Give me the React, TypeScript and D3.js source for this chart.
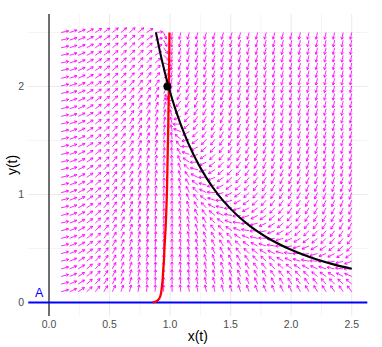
import React from "react";
import * as d3 from "d3";

// Tick labels
const xTicks = [0, 0.5, 1, 1.5, 2, 2.5];
const xTickLabels = ["0.0", "0.5", "1.0", "1.5", "2.0", "2.5"];
const yTicks = [0, 1, 2];
const yTickLabels = ["0", "1", "2"];
const xMinor = [0.25, 0.75, 1.25, 1.75, 2.25];
const yMinor = [0.5, 1.5, 2.5];

// Direction-field grid (35 x 35 from 0.1 to 2.5)
const gridN = 35;
const gridMin = 0.1;
const gridMax = 2.5;
const gridVals = d3.range(gridN).map((i) => gridMin + (i * (gridMax - gridMin)) / (gridN - 1));

// Model parameters (read to match the arrow directions)
const yNullK = 1.95; // y-nullcline y = K / x^2
const xNullBase = 0.142;
const xNullRate = 2.1;
const dxA = 1.1;
const dxP = 0.865;
const dxB = 0.44;

// Black curve points
const blackX = [0.883, 0.93, 0.987, 1.05, 1.1, 1.2, 1.3, 1.4, 1.5, 1.65, 1.8, 2.0, 2.2, 2.35, 2.5];
const blackY = [2.5, 2.255, 2.0, 1.769, 1.612, 1.354, 1.154, 0.995, 0.867, 0.716, 0.602, 0.488, 0.403, 0.353, 0.312];

// Red curve points
const redX = [0.858, 0.875, 0.902, 0.921, 0.932, 0.938, 0.943, 0.949, 0.954, 0.962, 0.972, 0.979, 0.985, 0.99, 0.993, 0.995];
const redY = [0.0, 0.005, 0.025, 0.065, 0.142, 0.204, 0.296, 0.389, 0.512, 0.667, 0.95, 1.3, 1.65, 2.0, 2.25, 2.5];

// Point and label
const pointX = [0.978];
const pointY = [2.0];
const labelText = "A";

const W = 382;
const H = 347;

export default function App() {
  const x = d3.scaleLinear().domain([0, 2.5]).range([49, 351.7]);
  const y = d3.scaleLinear().domain([0, 2]).range([302.5, 86.5]);
  const panelL = 28.3, panelR = 367.3, panelT = 14, panelB = 316;

  const rNull = (yy: number) => 1 - xNullBase * Math.exp(-xNullRate * Math.sqrt(Math.max(yy, 0)));
  const field = (xx: number, yy: number) => {
    const dx = (rNull(yy) - xx) * (dxA / Math.pow(xx, dxP) + dxB * yy);
    const dy = yNullK - xx * xx * yy;
    return [dx, dy];
  };

  const L = 0.064;
  const arrows: JSX.Element[] = [];
  gridVals.forEach((gx, i) => {
    gridVals.forEach((gy, j) => {
      const [dx, dy] = field(gx, gy);
      const m = Math.hypot(dx, dy) || 1;
      const ex = gx + (dx / m) * L;
      const ey = gy + (dy / m) * L;
      const x0 = x(gx), y0 = y(gy), x1 = x(ex), y1 = y(ey);
      const ang = Math.atan2(y1 - y0, x1 - x0);
      const hl = 2.8;
      const a1 = ang + Math.PI - Math.PI / 6;
      const a2 = ang + Math.PI + Math.PI / 6;
      const d = `M${x0},${y0}L${x1},${y1}M${x1 + hl * Math.cos(a1)},${y1 + hl * Math.sin(a1)}L${x1},${y1}L${x1 + hl * Math.cos(a2)},${y1 + hl * Math.sin(a2)}`;
      arrows.push(<path key={`${i}-${j}`} d={d} />);
    });
  });

  const blackLine = d3
    .line<number>()
    .x((_, i) => x(blackX[i]))
    .y((v) => y(v))
    .curve(d3.curveMonotoneX)(blackY);
  const redLine = d3
    .line<number>()
    .x((v) => x(v))
    .y((_, i) => y(redY[i]))
    .curve(d3.curveMonotoneY)(redX);

  const font = "'Liberation Sans', Arial, Helvetica, sans-serif";

  return (
    <svg width={W} height={H} style={{ position: "absolute", left: 0, top: 0 }} fontFamily={font}>
      <rect width={W} height={H} fill="white" />
      {/* minor grid */}
      <g stroke="#EBEBEB" strokeWidth={0.55}>
        {xMinor.map((t) => (
          <line key={"xm" + t} x1={x(t)} x2={x(t)} y1={panelT} y2={panelB} />
        ))}
        {yMinor.map((t) => (
          <line key={"ym" + t} x1={panelL} x2={panelR} y1={y(t)} y2={y(t)} />
        ))}
      </g>
      {/* major grid */}
      <g stroke="#EBEBEB" strokeWidth={1.07}>
        {xTicks.map((t) => (
          <line key={"xM" + t} x1={x(t)} x2={x(t)} y1={panelT} y2={panelB} />
        ))}
        {yTicks.map((t) => (
          <line key={"yM" + t} x1={panelL} x2={panelR} y1={y(t)} y2={y(t)} />
        ))}
      </g>
      {/* vertical reference line at x = 0 */}
      <line x1={x(0)} x2={x(0)} y1={panelT} y2={panelB} stroke="black" strokeWidth={1.1} />
      {/* direction field */}
      <g stroke="#FF00FF" strokeWidth={0.85} fill="none" strokeLinecap="butt">
        {arrows}
      </g>
      {/* horizontal line y = 0 */}
      <line x1={panelL} x2={panelR} y1={y(0)} y2={y(0)} stroke="#0000FF" strokeWidth={2.1} />
      {/* red curve */}
      <path d={redLine || ""} fill="none" stroke="#FF0000" strokeWidth={2.3} />
      {/* black curve */}
      <path d={blackLine || ""} fill="none" stroke="black" strokeWidth={2.1} />
      {pointX.map((px, i) => (
        <circle key={"p" + i} cx={x(px)} cy={y(pointY[i])} r={4} fill="black" />
      ))}
      <text x={39.2} y={297} fill="#0000FF" fontSize={12.5} textAnchor="middle">
        {labelText}
      </text>
      {/* tick labels */}
      <g fill="#4D4D4D" fontSize={10.5}>
        {xTicks.map((t, i) => (
          <text key={"xt" + t} x={x(t)} y={327.5} textAnchor="middle">
            {xTickLabels[i]}
          </text>
        ))}
        {yTicks.map((t, i) => (
          <text key={"yt" + t} x={24} y={y(t) + 3.8} textAnchor="end">
            {yTickLabels[i]}
          </text>
        ))}
      </g>
      {/* axis titles */}
      <text x={(panelL + panelR) / 2} y={341} textAnchor="middle" fontSize={14} fill="black">
        x(t)
      </text>
      <text
        transform={`translate(${17},${(panelT + panelB) / 2}) rotate(-90)`}
        textAnchor="middle"
        fontSize={14}
        fill="black"
      >
        y(t)
      </text>
    </svg>
  );
}
